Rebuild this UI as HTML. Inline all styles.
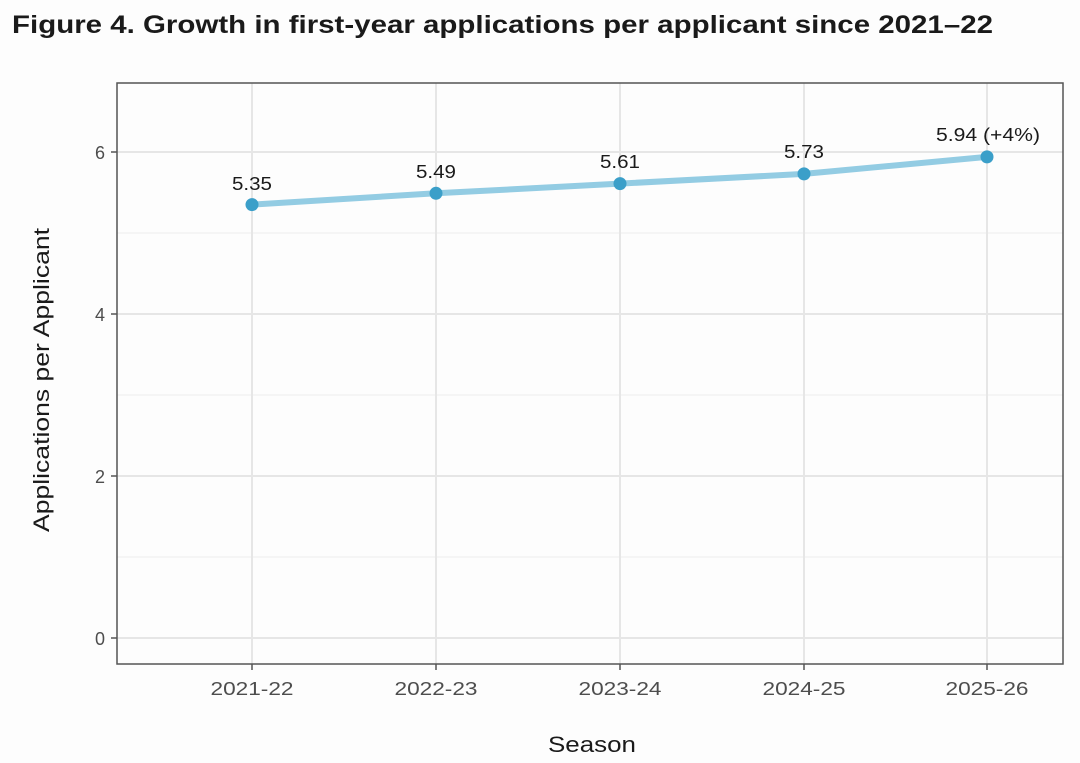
<!DOCTYPE html>
<html><head><meta charset="utf-8"><style>
body{margin:0;background:#fdfdfd;width:1080px;height:758px;overflow:hidden}
</style></head><body>
<svg width="1080" height="758" xmlns="http://www.w3.org/2000/svg" font-family="Liberation Sans, sans-serif">
<rect width="1080" height="758" fill="#fdfdfd"/>
<text x="12" y="33" font-size="25" font-weight="bold" fill="#1a1a1a" textLength="981" lengthAdjust="spacingAndGlyphs">Figure 4. Growth in first-year applications per applicant since 2021–22</text>
<rect x="117" y="83" width="946" height="581" fill="#fdfdfd"/>
<g stroke="#ededed" stroke-width="1">
<line x1="117" x2="1063" y1="557" y2="557"/><line x1="117" x2="1063" y1="395" y2="395"/><line x1="117" x2="1063" y1="233" y2="233"/>
</g>
<g stroke="#e6e6e6" stroke-width="2">
<line x1="117" x2="1063" y1="638" y2="638"/><line x1="117" x2="1063" y1="476" y2="476"/><line x1="117" x2="1063" y1="314" y2="314"/><line x1="117" x2="1063" y1="152" y2="152"/>
<line y1="83" y2="664" x1="252" x2="252"/><line y1="83" y2="664" x1="436" x2="436"/><line y1="83" y2="664" x1="620" x2="620"/><line y1="83" y2="664" x1="804" x2="804"/><line y1="83" y2="664" x1="987" x2="987"/>
</g>
<rect x="117" y="83" width="946" height="581" fill="none" stroke="#555" stroke-width="1.5"/>
<g stroke="#555" stroke-width="1.5">
<line x1="111" x2="117" y1="638" y2="638"/><line x1="111" x2="117" y1="476" y2="476"/><line x1="111" x2="117" y1="314" y2="314"/><line x1="111" x2="117" y1="152" y2="152"/>
<line y1="664" y2="670" x1="252" x2="252"/><line y1="664" y2="670" x1="436" x2="436"/><line y1="664" y2="670" x1="620" x2="620"/><line y1="664" y2="670" x1="804" x2="804"/><line y1="664" y2="670" x1="987" x2="987"/>
</g>
<g font-size="18" fill="#4d4d4d" text-anchor="end">
<text x="105" y="645">0</text><text x="105" y="483">2</text><text x="105" y="321">4</text><text x="105" y="159">6</text>
</g>
<g font-size="18" fill="#4d4d4d" text-anchor="middle">
<text x="252" y="695" textLength="83" lengthAdjust="spacingAndGlyphs">2021-22</text><text x="436" y="695" textLength="83" lengthAdjust="spacingAndGlyphs">2022-23</text><text x="620" y="695" textLength="83" lengthAdjust="spacingAndGlyphs">2023-24</text><text x="804" y="695" textLength="83" lengthAdjust="spacingAndGlyphs">2024-25</text><text x="987" y="695" textLength="83" lengthAdjust="spacingAndGlyphs">2025-26</text>
</g>
<text x="592" y="752" font-size="22" fill="#1a1a1a" text-anchor="middle" textLength="88" lengthAdjust="spacingAndGlyphs">Season</text>
<text transform="translate(49,380) rotate(-90)" font-size="22" fill="#1a1a1a" text-anchor="middle" textLength="304" lengthAdjust="spacingAndGlyphs">Applications per Applicant</text>
<polyline points="252,204.6 436,193.3 620,183.6 804,173.9 987,156.9" fill="none" stroke="#93cce3" stroke-width="6" stroke-linecap="round" stroke-linejoin="round"/>
<g fill="#3b9fc9">
<circle cx="252" cy="204.6" r="6.5"/><circle cx="436" cy="193.3" r="6.5"/><circle cx="620" cy="183.6" r="6.5"/><circle cx="804" cy="173.9" r="6.5"/><circle cx="987" cy="156.9" r="6.5"/>
</g>
<g font-size="18" fill="#1a1a1a" text-anchor="middle">
<text x="252" y="190" textLength="40" lengthAdjust="spacingAndGlyphs">5.35</text><text x="436" y="178" textLength="40" lengthAdjust="spacingAndGlyphs">5.49</text><text x="620" y="168" textLength="40" lengthAdjust="spacingAndGlyphs">5.61</text><text x="804" y="158" textLength="40" lengthAdjust="spacingAndGlyphs">5.73</text><text x="988" y="141" textLength="104" lengthAdjust="spacingAndGlyphs">5.94 (+4%)</text>
</g>
</svg>
</body></html>
